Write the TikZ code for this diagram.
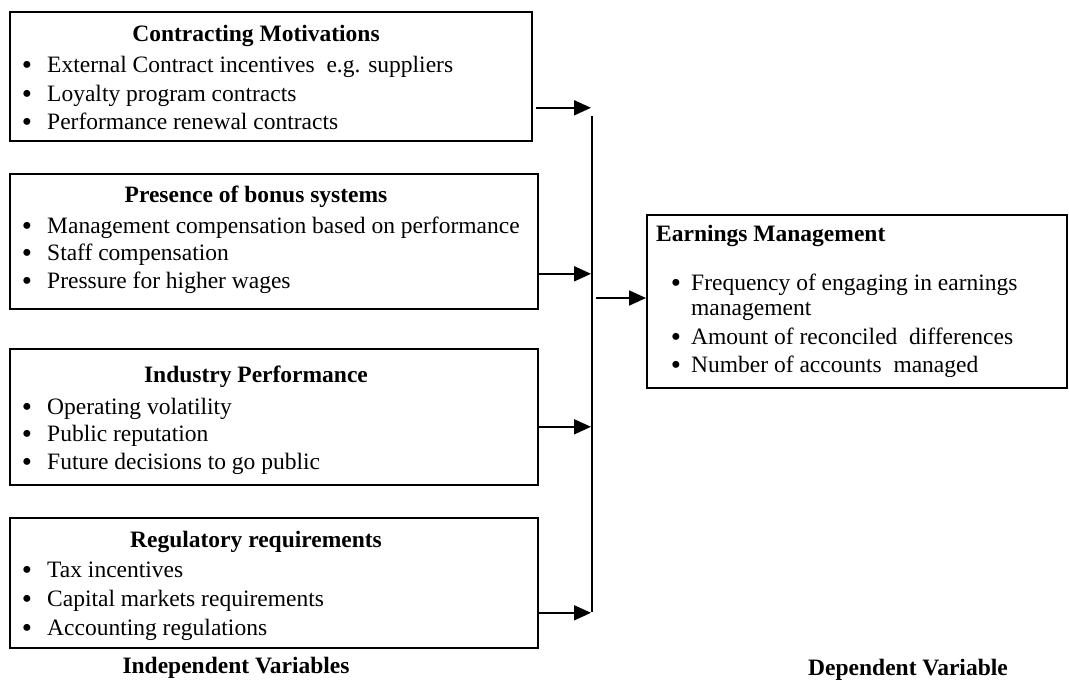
\documentclass[tikz,border=0pt]{standalone}
\usepackage{fontspec}
\setmainfont{Liberation Serif}
\usetikzlibrary{arrows.meta,calc}
\begin{document}
\begin{tikzpicture}[x=1pt,y=-1pt,
  box/.style={draw,line width=1.8pt,inner sep=0pt,anchor=north west},
  heading/.style={anchor=base,font=\fontsize{23.5}{27}\selectfont\bfseries,inner sep=0pt},
  caption/.style={anchor=base,font=\fontsize{23.5}{27}\selectfont\bfseries,inner sep=0pt},
  item/.style={anchor=base west,font=\fontsize{23.5}{27}\selectfont,inner sep=0pt},
  dot/.style={anchor=base,font=\fontsize{29}{30}\selectfont,inner sep=0pt,yshift=-2pt},
  feed/.style={line width=1.9pt,-{Triangle[length=17pt,width=15pt]}},
  bus/.style={line width=1.9pt}]
\useasboundingbox (0,0) rectangle (1069,680);

% independent-variable boxes
\node[box,minimum width=522pt,minimum height=129pt] (b1) at (9,11) {};
\node[box,minimum width=528pt,minimum height=135pt] (b2) at (9,173) {};
\node[box,minimum width=528pt,minimum height=136pt] (b3) at (9,348) {};
\node[box,minimum width=528pt,minimum height=130pt] (b4) at (9,517) {};
% dependent-variable box
\node[box,minimum width=420pt,minimum height=173pt] (rb) at (646,214) {};

% box 1
\node[heading] (t1) at (256,41) {Contracting Motivations};
\foreach \y/\txt [count=\i] in {72/External Contract incentives\ \ e.g. suppliers,
    101/Loyalty program contracts,129/Performance renewal contracts}{
  \node[dot] (d1\i) at (27,\y) {\textbullet};
  \node[item] (i1\i) at (47,\y) {\txt};
}
% box 2
\node[heading] (t2) at (256,202) {Presence of bonus systems};
\foreach \y/\txt [count=\i] in {233/Management compensation based on performance,
    260/Staff compensation,288/Pressure for higher wages}{
  \node[dot] (d2\i) at (27,\y) {\textbullet};
  \node[item] (i2\i) at (47,\y) {\txt};
}
% box 3
\node[heading] (t3) at (256,382) {Industry Performance};
\foreach \y/\txt [count=\i] in {414/Operating volatility,
    441/Public reputation,469/Future decisions to go public}{
  \node[dot] (d3\i) at (27,\y) {\textbullet};
  \node[item] (i3\i) at (47,\y) {\txt};
}
% box 4
\node[heading] (t4) at (256,547) {Regulatory requirements};
\foreach \y/\txt [count=\i] in {577/Tax incentives,
    606/Capital markets requirements,635/Accounting regulations}{
  \node[dot] (d4\i) at (27,\y) {\textbullet};
  \node[item] (i4\i) at (47,\y) {\txt};
}

% dependent box
\node[heading,anchor=base west] (tr) at (656,241) {Earnings Management};
\node[dot] (dr1) at (676,290) {\textbullet};
\node[item] (ir1) at (691,290) {Frequency of engaging in earnings};
\node[item] (ir1b) at (691,315) {management};
\node[dot] (dr2) at (676,344) {\textbullet};
\node[item] (ir2) at (691,344) {Amount of reconciled\ \ differences};
\node[dot] (dr3) at (676,372) {\textbullet};
\node[item] (ir3) at (691,372) {Number of accounts\ \ managed};

% captions
\node[caption] (c1) at (236,673) {Independent Variables};
\node[caption] (c2) at (908,675) {Dependent Variable};

% collecting bus
\coordinate (bt) at (592,116);
\coordinate (bb) at (592,612);
\draw[bus] (bt) -- (bb);

% feeds into the bus
\coordinate (s1) at ($(b1.south east)+(3,-34)$);
\coordinate (s2) at ($(b2.south east)+(0,-36)$);
\coordinate (s3) at ($(b3.south east)+(0,-59)$);
\coordinate (s4) at ($(b4.south east)+(0,-36)$);
\foreach \k in {1,...,4}{
  \draw[feed] (s\k) -- ($(bt |- s\k)+(-1,0)$);
}

% bus to the dependent box
\coordinate (hub) at (596,298);
\draw[feed] (hub) -- (rb.west |- hub);
\end{tikzpicture}
\end{document}
